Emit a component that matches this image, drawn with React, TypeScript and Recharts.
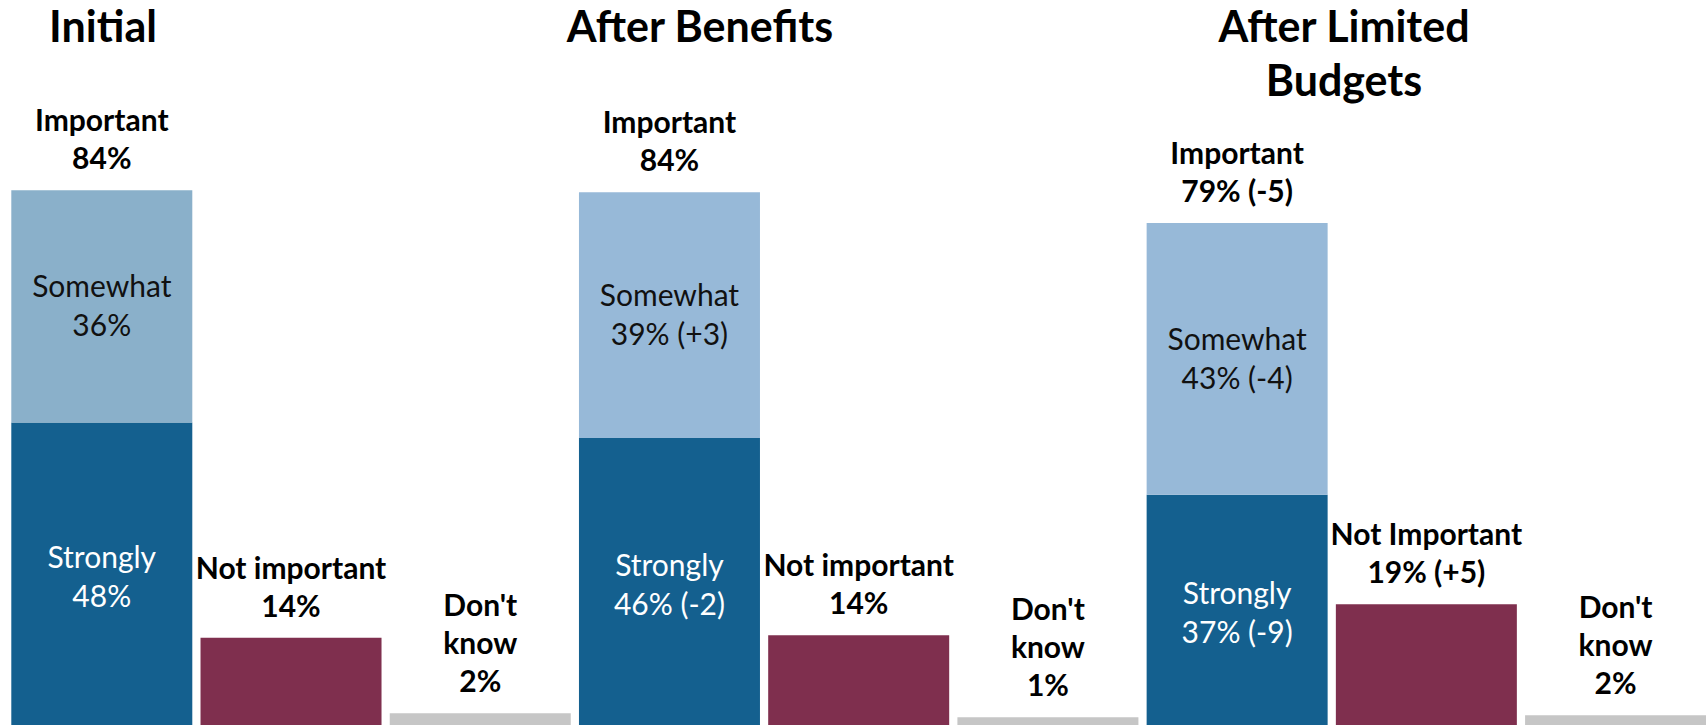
import React from 'react';
import { BarChart, Bar, XAxis, YAxis, LabelList, Cell } from 'recharts';

// ---- Data ----
const phases = ['Initial', 'After Benefits', 'After Limited Budgets'];
const responses = ['Important', 'Not important', "Don't know"];
const stronglyValues = [48, 45.6, 36.8];
const somewhatValues = [36, 38.1, 42.1];
const notImportantValues = [14.6, 15, 19.8];
const dontKnowValues = [2.9, 2.3, 2.6];
const importantLabels = ['Important\n84%', 'Important\n84%', 'Important\n79% (-5)'];
const stronglyLabels = ['Strongly\n48%', 'Strongly\n46% (-2)', 'Strongly\n37% (-9)'];
const somewhatLabels = ['Somewhat\n36%', 'Somewhat\n39% (+3)', 'Somewhat\n43% (-4)'];
const notImportantLabels = ['Not important\n14%', 'Not important\n14%', 'Not Important\n19% (+5)'];
const dontKnowLabels = ["Don't\nknow\n2%", "Don't\nknow\n1%", "Don't\nknow\n2%"];
const titleLines = [['Initial'], ['After Benefits'], ['After Limited', 'Budgets']];

// ---- Styles ----
const FONT = 'Lato, "Open Sans", sans-serif';
const COLORS = {
  strongly: '#14608F',
  somewhatInitial: '#8AB0CA',
  somewhat: '#97B9D8',
  notImportant: '#7F2F4E',
  dontKnow: '#C6C6C6',
};
const titleCenters = [103, 700, 1344];

type Row = {
  name: string;
  phase: number;
  kind: 'imp' | 'ni' | 'dk';
  strongly: number;
  somewhat: number;
  other: number;
  stronglyLabel: string;
  somewhatLabel: string;
  topImp: string;
  topOther: string;
};

const data: Row[] = [];
phases.forEach((p, i) => {
  data.push({
    name: `${p} - ${responses[0]}`, phase: i, kind: 'imp',
    strongly: stronglyValues[i], somewhat: somewhatValues[i], other: 0,
    stronglyLabel: stronglyLabels[i], somewhatLabel: somewhatLabels[i],
    topImp: importantLabels[i], topOther: '',
  });
  data.push({
    name: `${p} - ${responses[1]}`, phase: i, kind: 'ni',
    strongly: 0, somewhat: 0, other: notImportantValues[i],
    stronglyLabel: '', somewhatLabel: '', topImp: '', topOther: notImportantLabels[i],
  });
  data.push({
    name: `${p} - ${responses[2]}`, phase: i, kind: 'dk',
    strongly: 0, somewhat: 0, other: dontKnowValues[i],
    stronglyLabel: '', somewhatLabel: '', topImp: '', topOther: dontKnowLabels[i],
  });
});

const getBox = (props: any) => {
  const vb = props.viewBox || {};
  const x = Number(props.x ?? vb.x ?? 0);
  const y = Number(props.y ?? vb.y ?? 0);
  const width = Number(props.width ?? vb.width ?? 0);
  const height = Number(props.height ?? vb.height ?? 0);
  return { x, y, width, height };
};

const TopLabel = (props: any) => {
  const { value } = props;
  if (!value) return null;
  const { x, y, width } = getBox(props);
  const lines = String(value).split('\n');
  const cx = x + width / 2;
  const last = y - 21;
  return (
    <text textAnchor="middle" fontFamily={FONT} fontWeight={700} fontSize={30} fill="#000">
      {lines.map((l, i) => (
        <tspan key={i} x={cx} y={last - (lines.length - 1 - i) * 38}>{l}</tspan>
      ))}
    </text>
  );
};

const makeInside = (color: string) => (props: any) => {
  const { value } = props;
  if (!value) return null;
  const { x, y, width, height } = getBox(props);
  const lines = String(value).split('\n');
  const cx = x + width / 2;
  const cy = y + height / 2;
  return (
    <text textAnchor="middle" fontFamily={FONT} fontWeight={400} fontSize={30} fill={color}>
      {lines.map((l, i) => (
        <tspan key={i} x={cx} y={cy - 9 + i * 39}>{l}</tspan>
      ))}
    </text>
  );
};

const InsideWhite = makeInside('#FFFFFF');
const InsideBlack = makeInside('#111111');

export default function App() {
  return (
    <div style={{ position: 'absolute', left: 0, top: 0, width: 1706, height: 725, overflow: 'hidden', background: '#fff' }}>
      <BarChart
        width={1712}
        height={740}
        data={data}
        margin={{ top: 87, right: 2, bottom: 8, left: 7 }}
        barCategoryGap={4.3}
      >
        <XAxis dataKey="name" hide />
        <YAxis hide domain={[0, 100]} />
        <Bar dataKey="strongly" stackId="a" fill={COLORS.strongly} isAnimationActive={false}>
          <LabelList dataKey="stronglyLabel" content={InsideWhite} />
        </Bar>
        <Bar dataKey="somewhat" stackId="a" fill={COLORS.somewhat} isAnimationActive={false}>
          {data.map((d, i) => (
            <Cell key={i} fill={d.phase === 0 ? COLORS.somewhatInitial : COLORS.somewhat} />
          ))}
          <LabelList dataKey="somewhatLabel" content={InsideBlack} />
          <LabelList dataKey="topImp" content={TopLabel} />
        </Bar>
        <Bar dataKey="other" stackId="a" fill={COLORS.notImportant} isAnimationActive={false}>
          {data.map((d, i) => (
            <Cell key={i} fill={d.kind === 'dk' ? COLORS.dontKnow : COLORS.notImportant} />
          ))}
          <LabelList dataKey="topOther" content={TopLabel} />
        </Bar>
      </BarChart>
      <svg
        width={1706}
        height={725}
        style={{ position: 'absolute', left: 0, top: 0, pointerEvents: 'none' }}
      >
        {titleLines.map((lines, i) => (
          <text key={i} textAnchor="middle" fontFamily={FONT} fontWeight={700} fontSize={43} fill="#000">
            {lines.map((l, j) => (
              <tspan key={j} x={titleCenters[i]} y={42 + j * 54}>{l}</tspan>
            ))}
          </text>
        ))}
      </svg>
    </div>
  );
}
